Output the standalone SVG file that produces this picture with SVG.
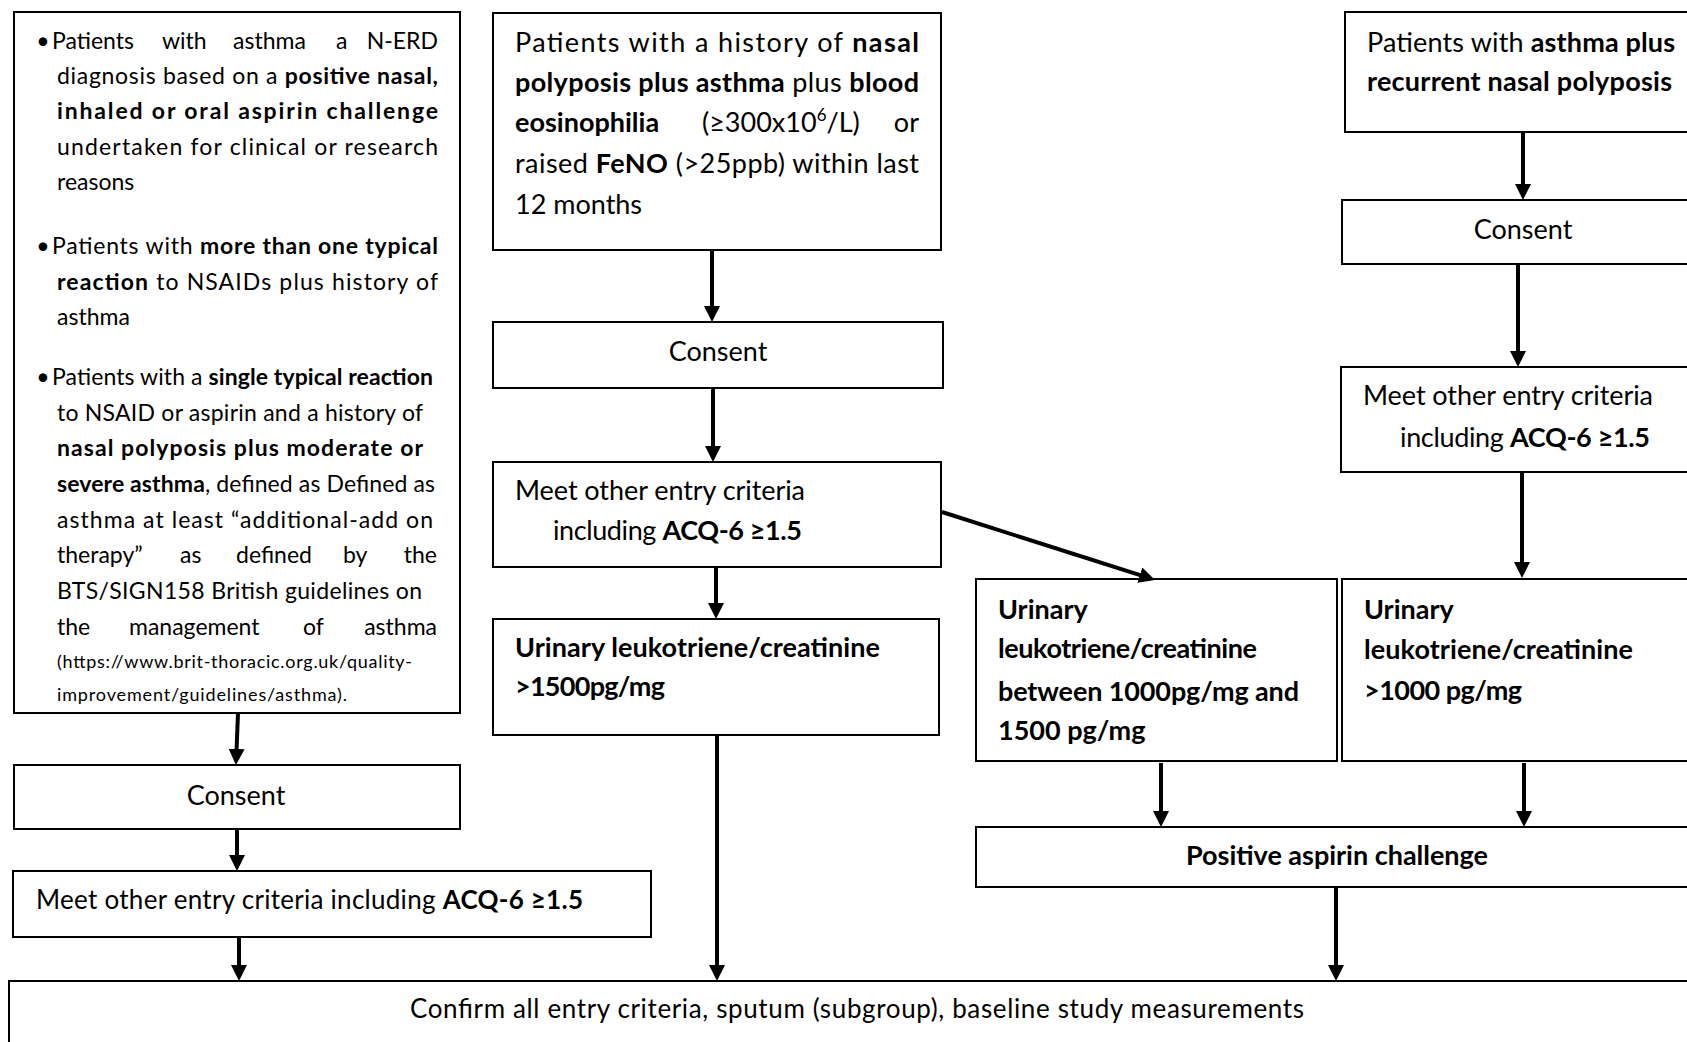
<svg xmlns="http://www.w3.org/2000/svg" width="1687" height="1042" viewBox="0 0 1687 1042">
<style>
.t{font-family:Lato,"Open Sans","Liberation Sans",sans-serif;fill:#000}
.s{font-size:23px}
.u{font-size:18px}
.m{font-size:27px}
.n{font-size:26px}
.b{font-weight:bold}
.c{text-anchor:middle}
.e{text-anchor:end}
.box{fill:#fff;stroke:#000;stroke-width:2}
.conn line{stroke:#000;stroke-width:4;marker-end:url(#ah)}
</style>
<defs>
<marker id="ah" viewBox="0 0 16 16" markerWidth="16" markerHeight="16" refX="2" refY="8" orient="auto" markerUnits="userSpaceOnUse">
<path d="M0,0 L16,8 L0,16 z" fill="#000"/>
</marker>
</defs>
<rect width="1687" height="1042" fill="#fff"/>

<g id="left-criteria">
<rect class="box" x="14" y="12" width="446" height="701"/>
<text class="t s c" x="43" y="49">•</text>
<text class="t s" x="52" y="49">Patients</text>
<text class="t s" x="162" y="49">with</text>
<text class="t s" x="233" y="49">asthma</text>
<text class="t s" x="336" y="49">a</text>
<text class="t s e" x="438" y="49">N-ERD</text>
<text class="t s" x="57" y="84" textLength="381" lengthAdjust="spacing">diagnosis based on a <tspan class="b">positive nasal,</tspan></text>
<text class="t s b" x="57" y="119" textLength="381" lengthAdjust="spacing">inhaled or oral aspirin challenge</text>
<text class="t s" x="57" y="155" textLength="381" lengthAdjust="spacing">undertaken for clinical or research</text>
<text class="t s" x="57" y="190">reasons</text>
<text class="t s c" x="43" y="254">•</text>
<text class="t s" x="52" y="254" textLength="386" lengthAdjust="spacing">Patients with <tspan class="b">more than one typical</tspan></text>
<text class="t s" x="57" y="290" textLength="381" lengthAdjust="spacing"><tspan class="b">reaction</tspan> to NSAIDs plus history of</text>
<text class="t s" x="57" y="325">asthma</text>
<text class="t s c" x="43" y="385">•</text>
<text class="t s" x="52" y="385" textLength="381" lengthAdjust="spacing">Patients with a <tspan class="b">single typical reaction</tspan></text>
<text class="t s" x="57" y="421" textLength="366" lengthAdjust="spacing">to NSAID or aspirin and  a history of</text>
<text class="t s b" x="57" y="456" textLength="366" lengthAdjust="spacing">nasal  polyposis  plus  moderate  or</text>
<text class="t s" x="57" y="492" textLength="378" lengthAdjust="spacing"><tspan class="b">severe asthma</tspan>, defined as Defined as</text>
<text class="t s" x="57" y="528" textLength="376" lengthAdjust="spacing">asthma  at  least  “additional-add  on</text>
<text class="t s" x="57" y="563">therapy”</text>
<text class="t s" x="180" y="563">as</text>
<text class="t s" x="236" y="563">defined</text>
<text class="t s" x="343" y="563">by</text>
<text class="t s e" x="437" y="563">the</text>
<text class="t s" x="57" y="599" textLength="365" lengthAdjust="spacing">BTS/SIGN158  British  guidelines  on</text>
<text class="t s" x="57" y="635">the</text>
<text class="t s" x="129" y="635">management</text>
<text class="t s" x="303" y="635">of</text>
<text class="t s e" x="437" y="635">asthma</text>
<text class="t u" x="57" y="668" textLength="355" lengthAdjust="spacing">(https://www.brit-thoracic.org.uk/quality-</text>
<text class="t u" x="57" y="701" textLength="290" lengthAdjust="spacing">improvement/guidelines/asthma).</text>
</g>

<g id="left-consent">
<rect class="box" x="14" y="765" width="446" height="64"/>
<text class="t m c" x="236" y="805">Consent</text>
</g>

<g id="left-meet">
<rect class="box" x="13" y="871" width="638" height="66"/>
<text class="t n" x="36" y="909" textLength="547" lengthAdjust="spacing">Meet other entry criteria including <tspan class="b">ACQ-6 ≥1.5</tspan></text>
</g>

<g id="confirm">
<rect class="box" x="9" y="981" width="1700" height="80"/>
<text class="t n" x="410" y="1018" textLength="894" lengthAdjust="spacing">Confirm all entry criteria, sputum (subgroup), baseline study measurements</text>
</g>

<g id="mid-history">
<rect class="box" x="493" y="13" width="448" height="237"/>
<text class="t m" x="515" y="52" textLength="404" lengthAdjust="spacing">Patients with a history of <tspan class="b">nasal</tspan></text>
<text class="t m" x="515" y="92" textLength="404" lengthAdjust="spacing"><tspan class="b">polyposis plus asthma</tspan> plus <tspan class="b">blood</tspan></text>
<text class="t m b" x="515" y="132">eosinophilia</text>
<text class="t m" x="702" y="132">(≥300x10<tspan font-size="17" dy="-11">6</tspan><tspan dy="11">/L)</tspan></text>
<text class="t m e" x="919" y="132">or</text>
<text class="t m" x="515" y="173" textLength="404" lengthAdjust="spacing">raised <tspan class="b">FeNO</tspan> (&gt;25ppb) within last</text>
<text class="t m" x="515" y="214">12 months</text>
</g>

<g id="mid-consent">
<rect class="box" x="493" y="322" width="450" height="66"/>
<text class="t m c" x="718" y="361">Consent</text>
</g>

<g id="mid-meet">
<rect class="box" x="493" y="462" width="448" height="105"/>
<text class="t m" x="515" y="500" textLength="290" lengthAdjust="spacing">Meet other entry criteria</text>
<text class="t m" x="553" y="540" textLength="249" lengthAdjust="spacing">including <tspan class="b">ACQ-6 ≥1.5</tspan></text>
</g>

<g id="mid-urinary">
<rect class="box" x="493" y="619" width="446" height="116"/>
<text class="t m b" x="515" y="657" textLength="365" lengthAdjust="spacing">Urinary leukotriene/creatinine</text>
<text class="t m b" x="515" y="696" textLength="150" lengthAdjust="spacing">&gt;1500pg/mg</text>
</g>

<g id="right-patients">
<rect class="box" x="1345" y="12" width="360" height="120"/>
<text class="t m" x="1367" y="52" textLength="308" lengthAdjust="spacing">Patients with <tspan class="b">asthma plus</tspan></text>
<text class="t m b" x="1367" y="91" textLength="305" lengthAdjust="spacing">recurrent nasal polyposis</text>
</g>

<g id="right-consent">
<rect class="box" x="1342" y="200" width="360" height="64"/>
<text class="t m c" x="1523" y="239">Consent</text>
</g>

<g id="right-meet">
<rect class="box" x="1341" y="367" width="360" height="105"/>
<text class="t m" x="1363" y="405" textLength="290" lengthAdjust="spacing">Meet other entry criteria</text>
<text class="t m" x="1400" y="447" textLength="250" lengthAdjust="spacing">including <tspan class="b">ACQ-6 ≥1.5</tspan></text>
</g>

<g id="urinary-between">
<rect class="box" x="976" y="579" width="361" height="182"/>
<text class="t m b" x="998" y="619">Urinary</text>
<text class="t m b" x="998" y="658" textLength="259" lengthAdjust="spacing">leukotriene/creatinine</text>
<text class="t m b" x="998" y="701" textLength="301" lengthAdjust="spacing">between 1000pg/mg and</text>
<text class="t m b" x="998" y="740">1500 pg/mg</text>
</g>

<g id="urinary-over">
<rect class="box" x="1342" y="579" width="360" height="182"/>
<text class="t m b" x="1364" y="619">Urinary</text>
<text class="t m b" x="1364" y="659" textLength="269" lengthAdjust="spacing">leukotriene/creatinine</text>
<text class="t m b" x="1364" y="700" textLength="158" lengthAdjust="spacing">&gt;1000 pg/mg</text>
</g>

<g id="positive">
<rect class="box" x="976" y="827" width="730" height="60"/>
<text class="t m b" x="1186" y="865" textLength="302" lengthAdjust="spacing">Positive aspirin challenge</text>
</g>

<g id="connectors" class="conn">
<line x1="238" y1="713" x2="236.5" y2="751"/>
<line x1="237" y1="829" x2="237" y2="857"/>
<line x1="239" y1="937" x2="239" y2="967"/>
<line x1="712" y1="250" x2="712" y2="308"/>
<line x1="713" y1="388" x2="713" y2="448"/>
<line x1="716" y1="567" x2="716" y2="605"/>
<line x1="717" y1="735" x2="717" y2="967"/>
<line x1="942" y1="512" x2="1141.7" y2="575.7"/>
<line x1="1523" y1="132" x2="1523" y2="186"/>
<line x1="1518" y1="264" x2="1518" y2="353"/>
<line x1="1522" y1="472" x2="1522" y2="564"/>
<line x1="1161" y1="763" x2="1161" y2="813"/>
<line x1="1524" y1="763" x2="1524" y2="813"/>
<line x1="1336" y1="887" x2="1336" y2="967"/>
</g>
</svg>
